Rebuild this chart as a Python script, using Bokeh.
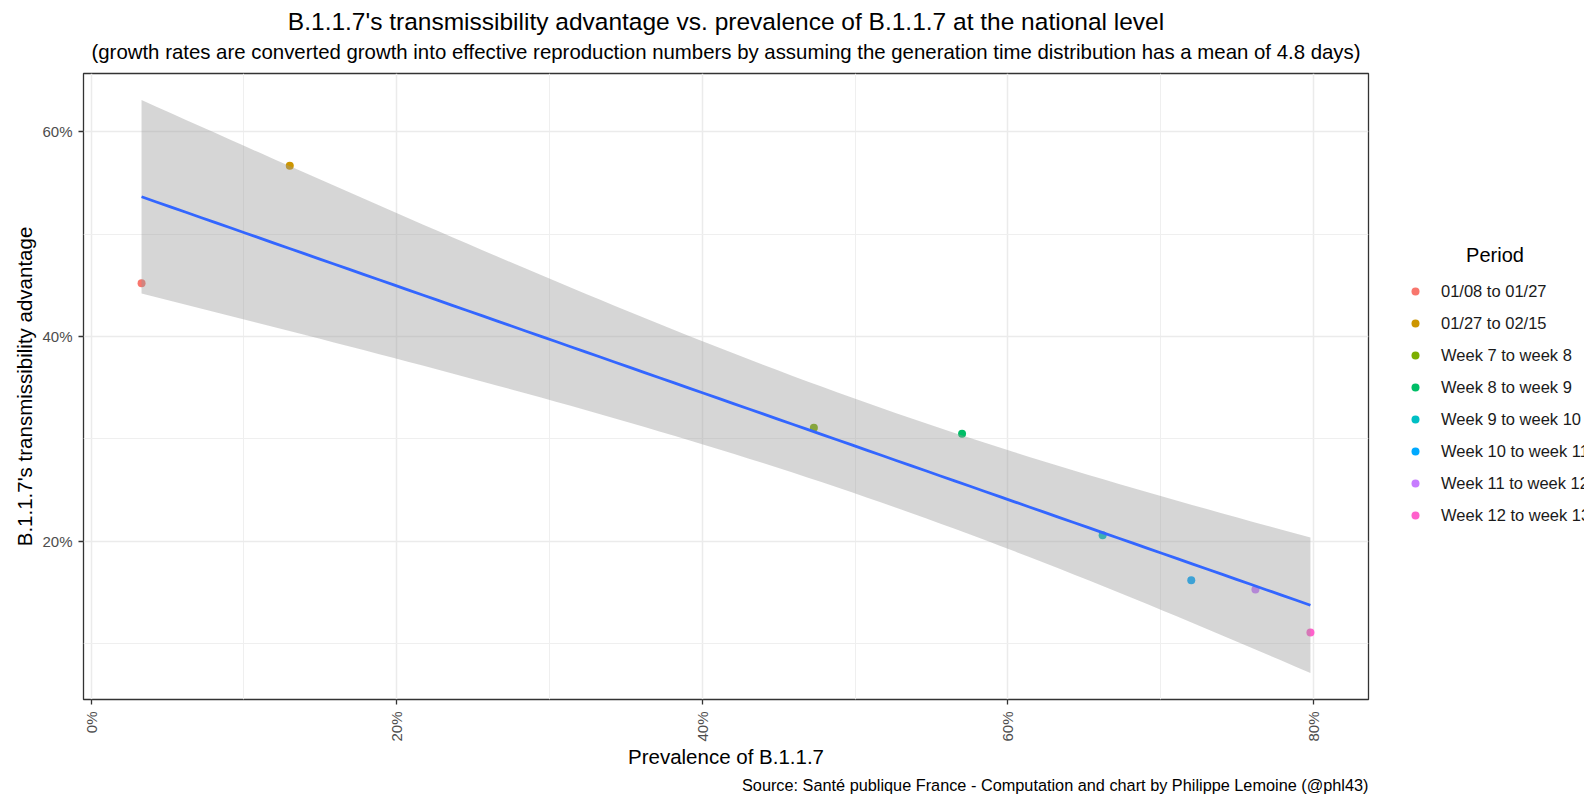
import numpy as np
from bokeh.plotting import figure
from bokeh.layouts import row
from bokeh.models import (FixedTicker, PrintfTickFormatter, Legend, LegendItem,
                          Label, Range1d, ColumnDataSource, Title, ColorBar, LinearColorMapper)
from bokeh.embed import file_html
from bokeh.resources import INLINE

# ---------------- data ----------------
periods = ["01/08 to 01/27", "01/27 to 02/15", "Week 7 to week 8", "Week 8 to week 9",
           "Week 9 to week 10", "Week 10 to week 11", "Week 11 to week 12", "Week 12 to week 13"]
prevalence = [3.3, 13.0, 47.3, 57.0, 66.2, 72.0, 76.2, 79.8]      # % of B.1.1.7
advantage = [45.2, 56.7, 31.1, 30.5, 20.6, 16.2, 15.3, 11.1]      # % transmissibility advantage
colors = ["#F8766D", "#CD9600", "#7CAE00", "#00BE67",
          "#00BFC4", "#00A9FF", "#C77CFF", "#FF61CC"]
x_ticks = [0, 20, 40, 60, 80]
x_minor = [10, 30, 50, 70]
y_ticks = [20, 40, 60]
y_minor = [10, 30, 50]

title = "B.1.1.7's transmissibility advantage vs. prevalence of B.1.1.7 at the national level"
subtitle = ("(growth rates are converted growth into effective reproduction numbers by assuming "
            "the generation time distribution has a mean of 4.8 days)")
x_title = "Prevalence of B.1.1.7"
y_title = "B.1.1.7's transmissibility advantage"
caption = "Source: Santé publique France - Computation and chart by Philippe Lemoine (@phl43)"
legend_title = "Period"

# ---------------- linear fit with 95% confidence band (geom_smooth(method="lm")) ----------------
x = np.array(prevalence)
y = np.array(advantage)
n = len(x)
slope, intercept = np.polyfit(x, y, 1)
xs = np.linspace(x.min(), x.max(), 80)
fit = intercept + slope * xs
resid = y - (intercept + slope * x)
s = np.sqrt(np.sum(resid ** 2) / (n - 2))
sxx = np.sum((x - x.mean()) ** 2)
se = s * np.sqrt(1.0 / n + (xs - x.mean()) ** 2 / sxx)
t_crit = 2.446912  # qt(0.975, df = 6)
band = ColumnDataSource(dict(x=xs, fit=fit, upper=fit + t_crit * se, lower=fit - t_crit * se))

FONT = "Liberation Sans"

# ---------------- main panel ----------------
p = figure(width=1378, height=796, output_backend="svg", toolbar_location=None,
           x_range=Range1d(-0.5, 83.6), y_range=Range1d(4.55, 65.7),
           min_border_left=83, min_border_right=10, min_border_top=73, min_border_bottom=95,
           background_fill_color="white", border_fill_color="white")

p.outline_line_color = "#333333"
p.outline_line_width = 1.3

p.xgrid.ticker = FixedTicker(ticks=x_ticks, minor_ticks=x_minor)
p.ygrid.ticker = FixedTicker(ticks=y_ticks, minor_ticks=y_minor)
for g in (p.xgrid, p.ygrid):
    g.grid_line_color = "#EBEBEB"
    g.grid_line_width = 1.5
    g.minor_grid_line_color = "#EFEFEF"
    g.minor_grid_line_width = 1.0

p.xaxis.ticker = FixedTicker(ticks=x_ticks, minor_ticks=x_minor)
p.yaxis.ticker = FixedTicker(ticks=y_ticks, minor_ticks=y_minor)
for ax in (p.xaxis, p.yaxis):
    ax.formatter = PrintfTickFormatter(format="%d%%")
    ax.axis_line_color = None
    ax.major_tick_line_color = "#333333"
    ax.major_tick_line_width = 1.3
    ax.major_tick_in = 0
    ax.major_tick_out = 5
    ax.minor_tick_line_color = None
    ax.major_label_text_font = FONT
    ax.major_label_text_font_size = "15px"
    ax.major_label_text_color = "#4D4D4D"
    ax.axis_label_text_font = FONT
    ax.axis_label_text_font_style = "normal"
    ax.axis_label_text_color = "black"
p.xaxis.axis_label_text_font_size = "20.5px"
p.yaxis.axis_label_text_font_size = "20.5px"
p.xaxis.major_label_orientation = np.pi / 2
p.xaxis.major_label_standoff = 7
p.yaxis.major_label_standoff = 6
p.xaxis.axis_label = x_title
p.yaxis.axis_label = y_title
p.xaxis.axis_label_standoff = 0
p.yaxis.axis_label_standoff = 3

# points first, smooth layer on top (as in ggplot)
for px, py, col in zip(prevalence, advantage, colors):
    p.scatter(x=[px], y=[py], size=8, fill_color=col, line_color=None)
p.varea(x="x", y1="lower", y2="upper", source=band, fill_color="#999999", fill_alpha=0.4)
p.line(x="x", y="fit", source=band, line_color="#3366FF", line_width=2.8)

# invisible spacer between the panel and the subtitle
spacer = ColorBar(color_mapper=LinearColorMapper(palette=["#FFFFFF"], low=0, high=1),
                  ticker=FixedTicker(ticks=[]), orientation="horizontal", height=9, width=10,
                  margin=0, padding=0, scale_alpha=0, bar_line_color=None, border_line_color=None,
                  background_fill_alpha=0, major_tick_line_color=None, minor_tick_line_color=None,
                  major_tick_out=0, major_tick_in=0, minor_tick_out=0, minor_tick_in=0,
                  label_standoff=0)
p.add_layout(spacer, "above")

# titles
p.add_layout(Title(text=subtitle, align="center", text_font=FONT, text_font_size="20.4px",
                   text_font_style="normal", text_color="black", standoff=4), "above")
p.add_layout(Title(text=title, align="center", text_font=FONT, text_font_size="24.5px",
                   text_font_style="normal", text_color="black", standoff=4), "above")
p.add_layout(Title(text=caption, align="right", text_font=FONT, text_font_size="16.3px",
                   text_font_style="normal", text_color="black", standoff=6), "below")

# ---------------- legend area (same marks, drawn outside its visible range) ----------------
q = figure(width=206, height=796, output_backend="svg", toolbar_location=None,
           x_range=Range1d(0, 1), y_range=Range1d(0, 1), x_axis_type=None, y_axis_type=None,
           min_border=0, outline_line_color=None,
           background_fill_color="white", border_fill_color="white")
q.grid.visible = False

items = []
for per, px, py, col in zip(periods, prevalence, advantage, colors):
    r = q.scatter(x=[px], y=[py], size=8, fill_color=col, line_color=None)
    items.append(LegendItem(label=per, renderers=[r]))

legend = Legend(items=items, location=(27, 174), padding=0, margin=0, spacing=12,
                glyph_width=20, glyph_height=20, label_height=20, label_standoff=16,
                label_text_font=FONT, label_text_font_size="16.5px", label_text_color="#1A1A1A",
                border_line_color=None, background_fill_alpha=0)
q.add_layout(legend, "center")
q.add_layout(Label(x=116.5, y=445, x_units="screen", y_units="screen", text=legend_title,
                   text_font=FONT, text_font_size="20px", text_color="black",
                   text_align="center", text_baseline="middle"))

open("out.html", "w").write(file_html(row(p, q), INLINE))
